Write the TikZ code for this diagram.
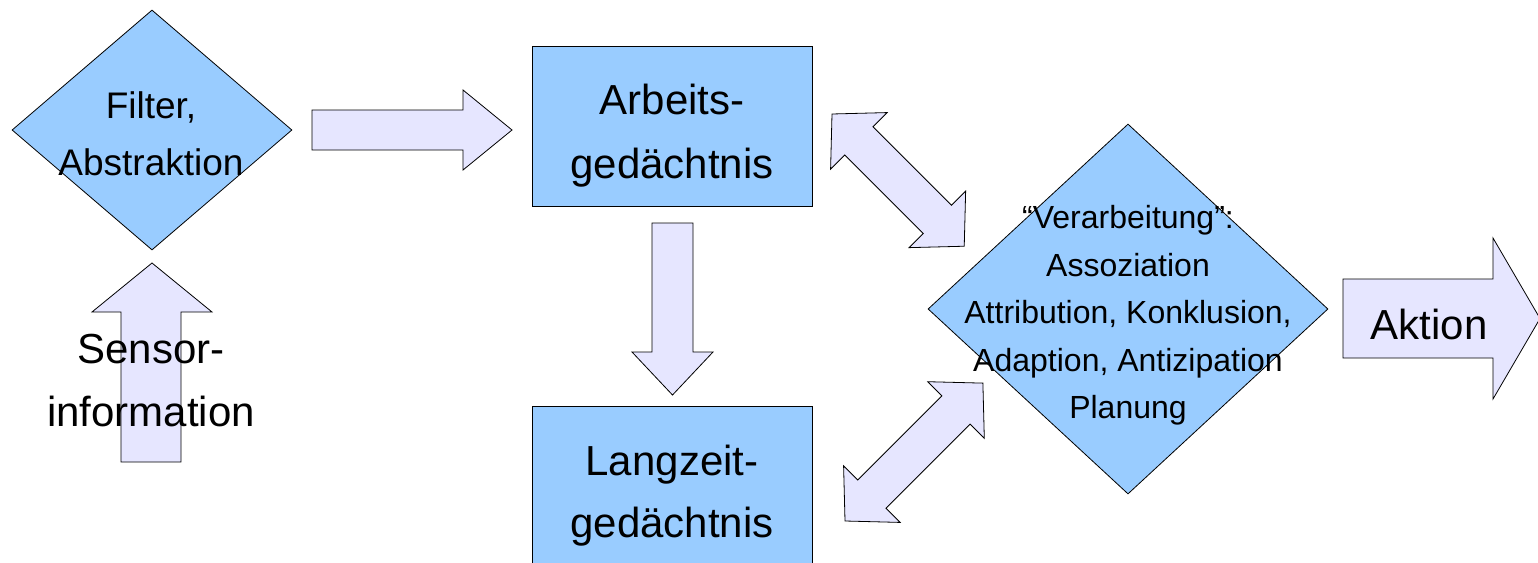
\documentclass[tikz,border=0pt]{standalone}
\usepackage{fontspec}
\setmainfont{Liberation Sans}
\usetikzlibrary{shapes.geometric}

\definecolor{boxblue}{HTML}{99CCFF}
\definecolor{arrowfill}{HTML}{E6E6FF}

\begin{document}
\begin{tikzpicture}[x=1pt, y=-1pt,
    block/.style={draw=black, line width=0.8pt, fill=boxblue, inner sep=0pt},
    blockarrow/.style={draw=black, line width=0.8pt, fill=arrowfill, line join=miter},
    txt/.style={align=center, inner sep=0pt}]

    \useasboundingbox (0,0) rectangle (1538,562);
    \clip (0,0) rectangle (1538,562);

    % Block arrows
    \draw[blockarrow] (121,462) -- (121,312) -- (92,312) -- (152,263) -- (212,312) -- (181,312) -- (181,462) -- cycle;
    \draw[blockarrow] (312,110) -- (463,110) -- (463,90) -- (512,130) -- (463,170) -- (463,150) -- (312,150) -- cycle;
    \draw[blockarrow] (652,223) -- (693,223) -- (693,352) -- (713,352) -- (672.5,395) -- (632,352) -- (652,352) -- cycle;
    \draw[blockarrow] (1343,279) -- (1493,279) -- (1493,238) -- (1540,318.5) -- (1493,399) -- (1493,358) -- (1343,358) -- cycle;

    % Double arrows
    \def\headl{38}
    \def\headw{40}
    \def\bodyw{20}
    \begin{scope}[shift={(832,114)}, rotate=-45]
        \def\dlen{187}
        \draw[blockarrow] (0,0) -- (\headl,\headw) -- (\headl,\bodyw) -- (\dlen-\headl,\bodyw) --
            (\dlen-\headl,\headw) -- (\dlen,0) -- (\dlen-\headl,-\headw) -- (\dlen-\headl,-\bodyw) --
            (\headl,-\bodyw) -- (\headl,-\headw) -- cycle;
    \end{scope}
    \begin{scope}[shift={(845,521)}, rotate=45]
        \def\dlen{195}
        \draw[blockarrow] (0,0) -- (\headl,\headw) -- (\headl,\bodyw) -- (\dlen-\headl,\bodyw) --
            (\dlen-\headl,\headw) -- (\dlen,0) -- (\dlen-\headl,-\headw) -- (\dlen-\headl,-\bodyw) --
            (\headl,-\bodyw) -- (\headl,-\headw) -- cycle;
    \end{scope}

    % Boxes and diamonds
    \node[block, diamond, minimum width=280pt, minimum height=240pt] (filter) at (152,130) {};
    \node[block, minimum width=280pt, minimum height=160pt] (arbeit) at (672,126) {};
    \node[block, minimum width=280pt, minimum height=160pt] (langzeit) at (672,486) {};
    \node[block, diamond, minimum width=400pt, minimum height=370pt] (verarb) at (1128,309) {};

    % Texts
    \node[txt, font={\fontsize{37}{57}\selectfont}] (filtertxt) at (151,134) {Filter,\\Abstraktion};
    \node[txt, font={\fontsize{42}{63}\selectfont}] (sensor) at (151,380.5) {Sensor-\\information};
    \node[txt, font={\fontsize{42}{64}\selectfont}] (arbeittxt) at (672,136) {Arbeits-\\gedächtnis};
    \node[txt, font={\fontsize{42}{62}\selectfont}] (langzeittxt) at (672,496) {Langzeit-\\gedächtnis};
    \node[txt, font={\fontsize{42}{50}\selectfont}] (aktion) at (1429,324) {Aktion};
    \node[txt, font={\fontsize{32}{47.5}\selectfont}] (verarbtxt) at (1128,315.5)
        {“Verarbeitung”:\\Assoziation\\Attribution, Konklusion,\\Adaption, Antizipation\\Planung};

\end{tikzpicture}
\end{document}
